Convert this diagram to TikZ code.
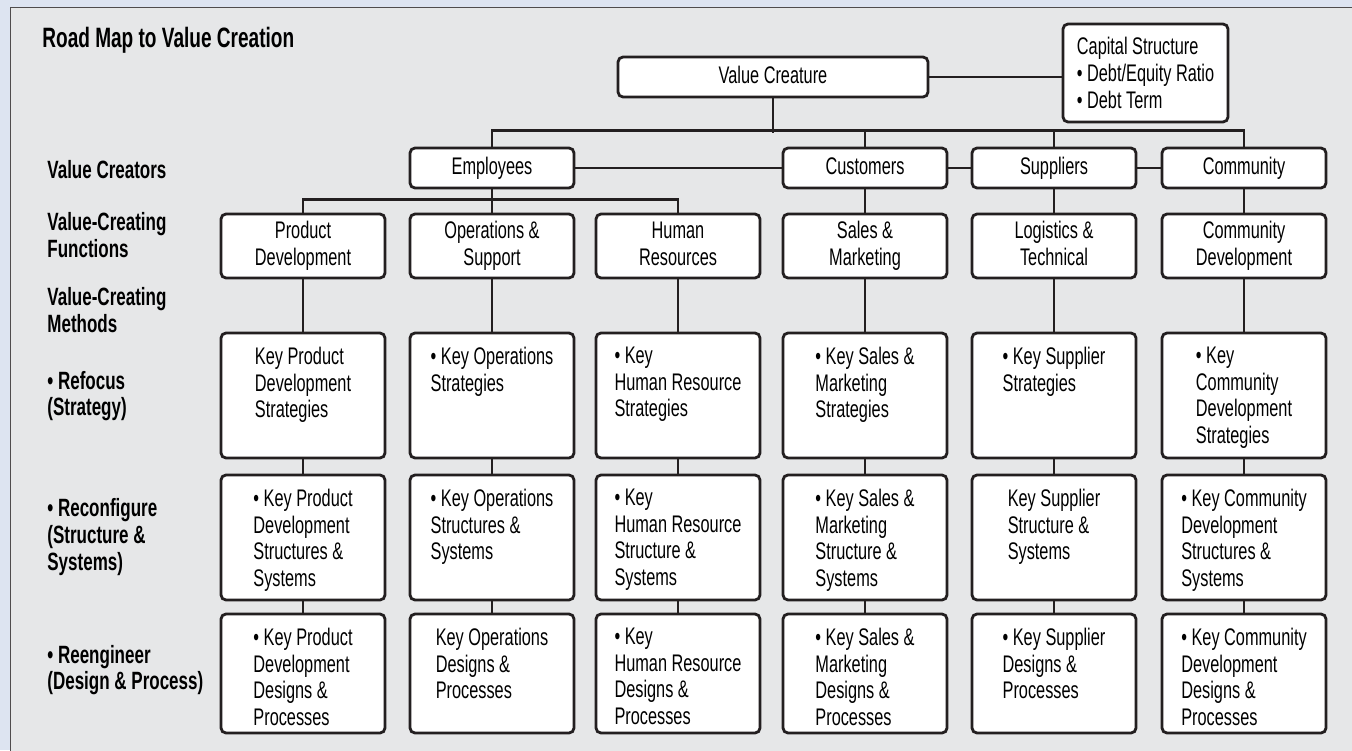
\documentclass[tikz,border=0pt]{standalone}
\usepackage{fontspec}
\setmainfont[FakeStretch=0.68]{Liberation Sans}
\usepackage{tikz}
\usetikzlibrary{positioning}
\definecolor{outerbg}{HTML}{DDE4F1}
\definecolor{innerbg}{HTML}{E6E7E8}
\definecolor{ink}{HTML}{231F20}

\begin{document}
\begin{tikzpicture}[x=0.5pt,y=-0.5pt,
   font=\fontsize{12}{13.3}\selectfont,
   box/.style={draw=ink, fill=white, line width=1.4pt, rounded corners=2.5pt, inner sep=2pt},
   vcbox/.style={box, minimum width=82pt, minimum height=20pt, text height=9pt, text depth=2.6pt},
   fnbox/.style={box, minimum width=82pt, minimum height=32pt, align=center, text height=22.3pt, text depth=3pt},
   mbox/.style={box, minimum width=82pt, minimum height=62.5pt},
   ebox/.style={box, minimum width=82pt, minimum height=59.5pt},
   mtext/.style={anchor=north, align=left, inner sep=0pt, yshift=-7.6pt},
   rowlab/.style={anchor=west, align=left, inner sep=0pt, font=\fontsize{12.5}{13.4}\selectfont\bfseries},
   link/.style={draw=ink, line width=1.4pt}]
   \useasboundingbox (0,0) rectangle (1352,750);
   \fill[outerbg] (0,0) rectangle (1352,750);
   \filldraw[fill=innerbg, draw=ink!80, line width=0.5pt] (10,7) rectangle (1372,772);

   % row labels
   \node[rowlab, font=\fontsize{14}{15}\selectfont\bfseries] (title) at (42,40) {Road Map to Value Creation};
   \node[rowlab] (l_cr) at (47,170) {Value Creators};
   \node[rowlab] (l_fn) at (47,235) {Value-Creating\\Functions};
   \node[rowlab] (l_me) at (47,310) {Value-Creating\\Methods};
   \node[rowlab] (l_rf) at (47,396) {• Refocus\\(Strategy)};
   \node[rowlab] (l_rc) at (47,537) {• Reconfigure\\(Structure \&\\Systems)};
   \node[rowlab] (l_re) at (47,670) {• Reengineer\\(Design \& Process)};

   % top
   \node[box, minimum width=155pt, minimum height=20pt, text height=9pt, text depth=2.6pt] (vc) at (773,77) {Value Creature};
   \node[box, minimum width=82.5pt, minimum height=49pt, align=left] (cap) at (1145.5,73)
      {Capital Structure\\• Debt/Equity Ratio\\• Debt Term};

   % value creators
   \node[vcbox] (emp) at (492,168) {Employees};
   \node[vcbox] (cus) at (865,168) {Customers};
   \node[vcbox] (sup) at (1054,168) {Suppliers};
   \node[vcbox] (com) at (1244,168) {Community};

   % functions
   \node[fnbox] (f1) at (303,246) {Product\\Development};
   \node[fnbox] (f2) at (492,246) {Operations \&\\Support};
   \node[fnbox] (f3) at (678,246) {Human\\Resources};
   \node[fnbox] (f4) at (865,246) {Sales \&\\Marketing};
   \node[fnbox] (f5) at (1054,246) {Logistics \&\\Technical};
   \node[fnbox] (f6) at (1244,246) {Community\\Development};

   % refocus
   \node[mbox, label={[mtext]north:{Key Product\\Development\\Strategies}}] (a1) at (303,395.5) {};
   \node[mbox, label={[mtext]north:{• Key Operations\\Strategies}}] (a2) at (492,395.5) {};
   \node[mbox, label={[mtext]north:{• Key\\Human Resource\\Strategies}}] (a3) at (678,395.5) {};
   \node[mbox, label={[mtext]north:{• Key Sales \&\\Marketing\\Strategies}}] (a4) at (865,395.5) {};
   \node[mbox, label={[mtext]north:{• Key Supplier\\Strategies}}] (a5) at (1054,395.5) {};
   \node[mbox, label={[mtext]north:{• Key\\Community\\Development\\Strategies}}] (a6) at (1244,395.5) {};

   % reconfigure
   \node[mbox, label={[mtext]north:{• Key Product\\Development\\Structures \&\\Systems}}] (b1) at (303,537.5) {};
   \node[mbox, label={[mtext]north:{• Key Operations\\Structures \&\\Systems}}] (b2) at (492,537.5) {};
   \node[mbox, label={[mtext]north:{• Key\\Human Resource\\Structure \&\\Systems}}] (b3) at (678,537.5) {};
   \node[mbox, label={[mtext]north:{• Key Sales \&\\Marketing\\Structure \&\\Systems}}] (b4) at (865,537.5) {};
   \node[mbox, label={[mtext]north:{Key Supplier\\Structure \&\\Systems}}] (b5) at (1054,537.5) {};
   \node[mbox, label={[mtext]north:{• Key Community\\Development\\Structures \&\\Systems}}] (b6) at (1244,537.5) {};

   % reengineer
   \node[ebox, label={[mtext]north:{• Key Product\\Development\\Designs \&\\Processes}}] (c1) at (303,673.5) {};
   \node[ebox, label={[mtext]north:{Key Operations\\Designs \&\\Processes}}] (c2) at (492,673.5) {};
   \node[ebox, label={[mtext]north:{• Key\\Human Resource\\Designs \&\\Processes}}] (c3) at (678,673.5) {};
   \node[ebox, label={[mtext]north:{• Key Sales \&\\Marketing\\Designs \&\\Processes}}] (c4) at (865,673.5) {};
   \node[ebox, label={[mtext]north:{• Key Supplier\\Designs \&\\Processes}}] (c5) at (1054,673.5) {};
   \node[ebox, label={[mtext]north:{• Key Community\\Development\\Designs \&\\Processes}}] (c6) at (1244,673.5) {};

   % connectors
   \path[link] (vc.east) -- (vc.east -| cap.west);
   \path[link] (vc.south) -- ++(0,35);
   \path[link] (emp.north) -- ++(0,-16) -| (com.north);
   \path[link] (cus.north) -- ++(0,-16);
   \path[link] (sup.north) -- ++(0,-16);
   \path[link] (emp) -- (cus) (cus) -- (sup) (sup) -- (com);
   \path[link] (emp.south) -- ++(0,13);
   \path[link] (f1.north) -- ++(0,-13) -| (f3.north);
   \path[link] (f2.north) -- ++(0,-13);
   \path[link] (cus) -- (f4) (sup) -- (f5) (com) -- (f6);
   \foreach \i in {1,...,6}
      \path[link] (f\i) -- (a\i) (a\i) -- (b\i) (b\i) -- (c\i);
\end{tikzpicture}
\end{document}
